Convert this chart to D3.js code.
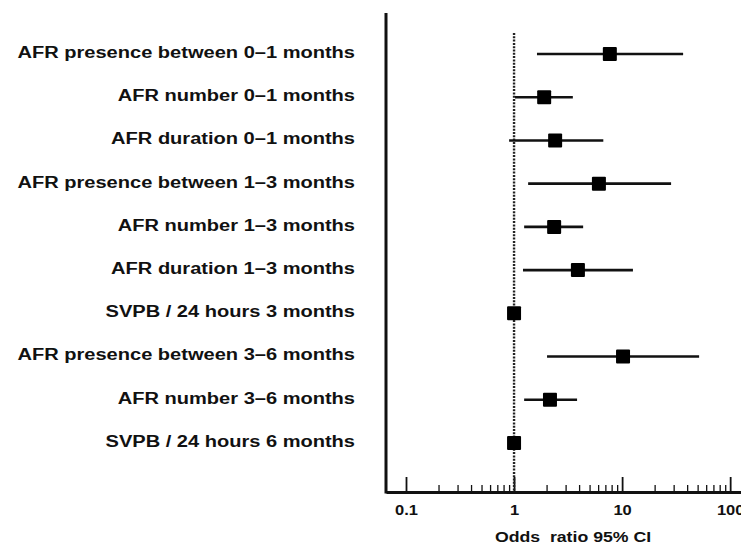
<!DOCTYPE html>
<html>
<head>
<meta charset="utf-8">
<script src="https://cdn.jsdelivr.net/npm/d3@7"></script>
<style>
    body { margin: 0; background: #fff; }
    text { font-family: "Liberation Sans", Arial, sans-serif; font-weight: bold; fill: #111; }
</style>
</head>
<body>
<div id="chart"></div>
<script>
// rows top to bottom
const labels = [
    "AFR presence between 0\u20131 months",
    "AFR number 0\u20131 months",
    "AFR duration 0\u20131 months",
    "AFR presence between 1\u20133 months",
    "AFR number 1\u20133 months",
    "AFR duration 1\u20133 months",
    "SVPB / 24 hours 3 months",
    "AFR presence between 3\u20136 months",
    "AFR number 3\u20136 months",
    "SVPB / 24 hours 6 months"
];
const oddsRatio = [7.7, 1.9, 2.4, 6.1, 2.35, 3.9, 1.0, 10.2, 2.15, 1.0];
const ciLow     = [1.63, 1.02, 0.90, 1.35, 1.24, 1.21, 0.99, 2.02, 1.24, 0.99];
const ciHigh    = [36.7, 3.5, 6.7, 28.4, 4.36, 12.6, 1.01, 51.6, 3.83, 1.01];

const majorTicks = [0.1, 1, 10, 100];
const minorTicks = [0.2, 0.3, 0.4, 0.5, 0.6, 0.7, 0.8, 0.9,
                    2, 3, 4, 5, 6, 7, 8, 9,
                    20, 30, 40, 50, 60, 70, 80, 90];

const width = 741, height = 545;
const margin = { top: 13, left: 386, bottom: 53 };
const axisY = height - margin.bottom;
const stretch = 1.18; // the original lettering is a bit wide

const svg = d3.select("#chart").append("svg")
    .attr("width", width)
    .attr("height", height);

// x: log scale for odds ratio
const x = d3.scaleLog()
    .domain([0.0653, 126])
    .range([margin.left, width]);

// y: one point per row
const y = d3.scalePoint()
    .domain(labels)
    .range([54, 443]);

// row labels via left axis
const pad = 31;
const yAxis = svg.append("g")
    .attr("transform", `translate(${margin.left},0)`)
    .call(d3.axisLeft(y).tickSize(0).tickPadding(pad));
yAxis.select(".domain").remove();
yAxis.selectAll("text")
    .style("font-size", "17px")
    .attr("dy", "0.2em")
    .attr("transform", `translate(${-pad * (1 - stretch)},0) scale(${stretch},1)`);

// y axis line
svg.append("line")
    .attr("x1", margin.left).attr("x2", margin.left)
    .attr("y1", margin.top).attr("y2", axisY + 1.5)
    .attr("stroke", "#111")
    .attr("stroke-width", 3);

// minor ticks (pointing up)
const minorAxis = svg.append("g")
    .attr("transform", `translate(0,${axisY})`)
    .call(d3.axisBottom(x).tickValues(minorTicks).tickSize(-7).tickSizeOuter(0).tickFormat(""));
minorAxis.select(".domain").remove();
minorAxis.selectAll("line").attr("stroke", "#111").attr("stroke-width", 1.3);

// major ticks + labels
const xAxis = svg.append("g")
    .attr("transform", `translate(0,${axisY})`)
    .call(d3.axisBottom(x).tickValues(majorTicks).tickSize(-15).tickSizeOuter(0)
        .tickPadding(13).tickFormat(d => d3.format("~g")(d)));
xAxis.select(".domain").attr("stroke", "#111").attr("stroke-width", 3);
xAxis.selectAll(".tick line").attr("stroke", "#111").attr("stroke-width", 1.8);
xAxis.selectAll("text")
    .style("font-size", "14px")
    .attr("transform", `scale(${stretch},1)`);

// axis title
svg.append("text")
    .attr("transform", `translate(573,542) scale(${stretch},1)`)
    .attr("text-anchor", "middle")
    .style("font-size", "15px")
    .style("white-space", "pre")
    .attr("xml:space", "preserve")
    .text("Odds  ratio 95% CI");

// reference line at OR = 1
svg.append("line")
    .attr("x1", x(1)).attr("x2", x(1))
    .attr("y1", 33).attr("y2", axisY)
    .attr("stroke", "#222")
    .attr("stroke-width", 2.4)
    .attr("stroke-dasharray", "2,1.3");

const rows = labels.map((label, i) => ({
    label: label, or: oddsRatio[i], lo: ciLow[i], hi: ciHigh[i]
}));

// confidence intervals
svg.append("g").selectAll("line")
    .data(rows)
    .enter().append("line")
    .attr("x1", d => x(d.lo))
    .attr("x2", d => x(d.hi))
    .attr("y1", d => y(d.label))
    .attr("y2", d => y(d.label))
    .attr("stroke", "#111")
    .attr("stroke-width", 2.6);

// point estimates
const sq = 14;
svg.append("g").selectAll("rect")
    .data(rows)
    .enter().append("rect")
    .attr("x", d => x(d.or) - sq / 2)
    .attr("y", d => y(d.label) - sq / 2)
    .attr("width", sq)
    .attr("height", sq)
    .attr("rx", 1)
    .attr("fill", "#000");
</script>
</body>
</html>
